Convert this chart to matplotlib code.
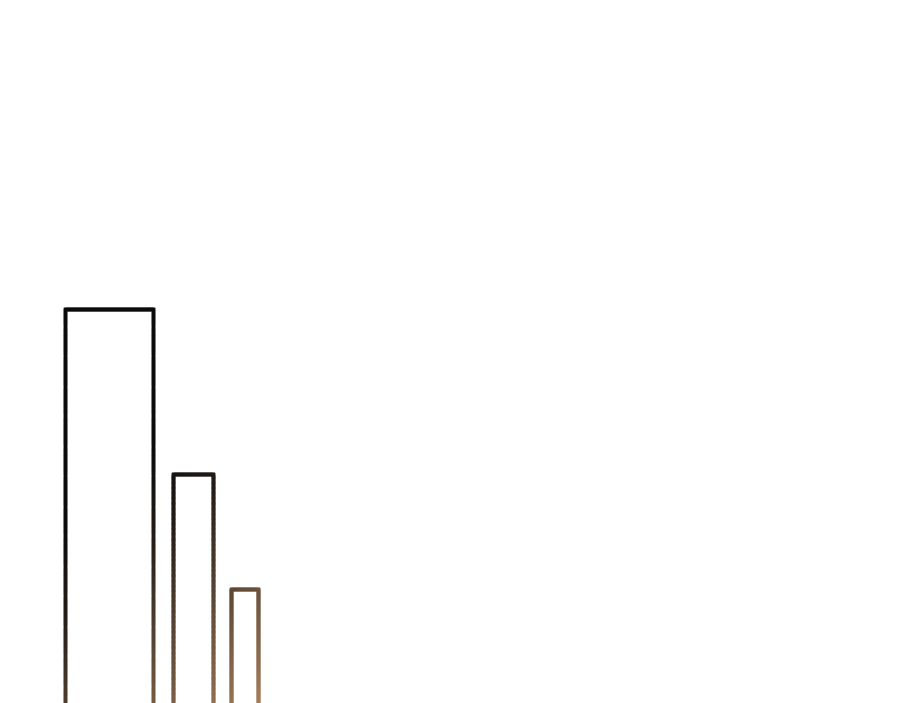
import numpy as np
import matplotlib
matplotlib.use("Agg")
import matplotlib.pyplot as plt
from matplotlib.collections import LineCollection
from matplotlib.colors import LinearSegmentedColormap

# bar values (baseline hidden below the lower edge of the picture)
categories = ["A", "B", "C"]
values = [100, 58, 29]

# layout: centres and widths in axis units (0..900 across)
centres = [109, 193, 244.5]
widths = [88, 40, 27]

W, H = 900, 703
fig = plt.figure(figsize=(W / 100, H / 100), dpi=100)
ax = fig.add_axes([0, 0, 1, 1])
ax.set_xlim(0, W)
ax.set_ylim(0, 178.4)
ax.axis("off")

# invisible bars, used only for their geometry
bars = ax.bar(centres, values, width=widths, fill=False, edgecolor="none")

cmap = LinearSegmentedColormap.from_list("ink", ["#0b0b0b", "#b08560"])
fig.canvas.draw()

segs, cols = [], []
for rect in bars:
    x0, y0 = rect.get_x(), rect.get_y()
    x1, y1 = x0 + rect.get_width(), y0 + rect.get_height()
    # open outline: left side, top, right side (bottom is off the picture)
    outline = [(x0, y0 - 5), (x0, y1), (x1, y1), (x1, y0 - 5)]
    for (ax_, ay), (bx, by) in zip(outline[:-1], outline[1:]):
        n = 200
        pts = np.column_stack([np.linspace(ax_, bx, n + 1), np.linspace(ay, by, n + 1)])
        for i in range(n):
            segs.append(pts[i:i + 2])
            mid = ax.transData.transform(pts[i:i + 2].mean(axis=0))
            px, py = mid[0], H - mid[1]
            # diagonal gradient: dark top-left, brown bottom-right
            t = 0.3 + 0.0031 * (px - 65) + 0.0036 * (py - 700)
            cols.append(cmap(np.clip(0.15 + 0.85 * t, 0, 1) if t > 0 else 0.15 * max(0, 1 + 3 * t)))

lc = LineCollection(segs, colors=cols, linewidths=2.5, capstyle="projecting")
ax.add_collection(lc)

fig.savefig("out.png", dpi=100, facecolor="white")
